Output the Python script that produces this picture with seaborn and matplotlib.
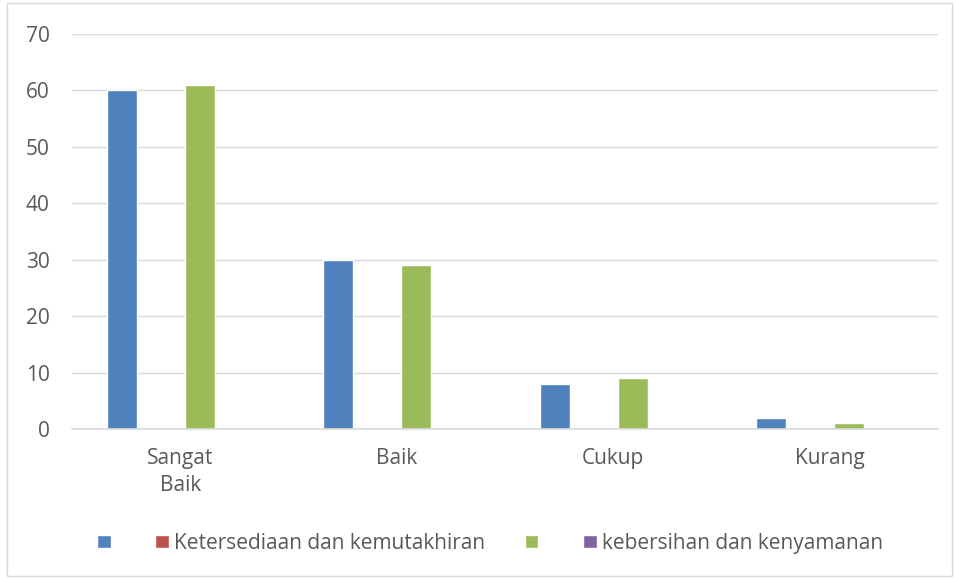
import pandas as pd
import numpy as np
import matplotlib.pyplot as plt
import seaborn as sns
from matplotlib.patches import Patch, Rectangle

categories = ["Sangat\nBaik", "Baik", "Cukup", "Kurang"]
series_names = ["s1", "Ketersediaan dan kemutakhiran", "s3", "kebersihan dan kenyamanan"]
legend_labels = ["", "Ketersediaan dan kemutakhiran", "", "kebersihan dan kenyamanan"]
blue_vals = [60, 30, 8, 2]
red_vals = [0, 0, 0, 0]
green_vals = [61, 29, 9, 1]
purple_vals = [0, 0, 0, 0]
colors = ["#4f81bd", "#c0504d", "#9bbb59", "#8064a2"]

df = pd.DataFrame({
    "cat": categories * 4,
    "series": np.repeat(series_names, 4),
    "val": blue_vals + red_vals + green_vals + purple_vals,
})

sns.set_style("white")
plt.rcParams["font.family"] = ["Open Sans", "DejaVu Sans"]

fig = plt.figure(figsize=(9.56, 5.78), dpi=100)
ax = fig.add_axes([0.0753, 0.2578, 0.9059, 0.6834])
sns.barplot(data=df, x="cat", y="val", hue="series", palette=colors,
            width=0.72, gap=0.23, ax=ax, legend=False, saturation=1)

ax.set_ylim(0, 70)
ax.set_xlim(-0.5, 3.5)
ax.set_yticks(range(0, 71, 10))
ax.yaxis.grid(True, color="#d9d9d9", linewidth=1)
ax.set_axisbelow(True)
for s in ["left", "right", "top"]:
    ax.spines[s].set_visible(False)
ax.spines["bottom"].set_color("#d9d9d9")
ax.spines["bottom"].set_linewidth(1.2)
ax.tick_params(axis="both", length=0, labelsize=15, labelcolor="#595959")
ax.tick_params(axis="y", pad=16)
ax.tick_params(axis="x", pad=14)
for lbl in ax.get_xticklabels():
    lbl.set_linespacing(1.35)
ax.set_xlabel("")
ax.set_ylabel("")

handles = [Patch(facecolor=c) for c in colors]
fig.legend(handles, legend_labels, loc="center", bbox_to_anchor=(0.5126, 0.06),
           ncol=4, frameon=False, fontsize=15, labelcolor="#595959",
           handlelength=0.65, handleheight=0.65, handletextpad=0.25,
           columnspacing=1.9)

fig.add_artist(Rectangle((0.007, 0.004), 0.989, 0.99, transform=fig.transFigure,
                         fill=False, edgecolor="#d9d9d9", linewidth=1))

fig.savefig("out.png", dpi=100)
